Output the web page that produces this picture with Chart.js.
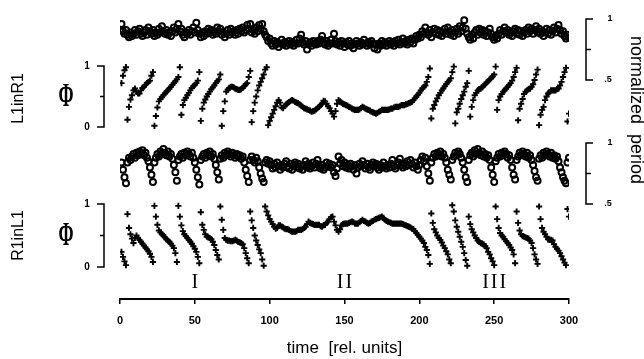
<!DOCTYPE html>
<html>
<head>
<meta charset="utf-8">
<script src="https://cdn.jsdelivr.net/npm/chart.js@4.4.1/dist/chart.umd.min.js"></script>
<style>
  body { margin: 0; background: #fff; }
  canvas { display: block; }
</style>
</head>
<body>
<canvas id="chart" width="644" height="359"></canvas>
<script>
// values, one per time unit (t = 1 .. 300)
const periodL1inR1 = [
  .96,.90,.88,.91,.87,.85,.89,.86,.88,.91,
  .87,.90,.92,.88,.86,.89,.91,.87,.93,.90,
  .88,.91,.86,.89,.87,.92,.89,.94,.90,.88,
  .91,.87,.89,.86,.90,.93,.89,.92,.96,.90,
  .92,.87,.85,.89,.88,.91,.87,.90,.93,.89,
  .97,.91,.88,.85,.89,.86,.90,.88,.92,.89,
  .91,.87,.90,.88,.93,.90,.92,.87,.89,.85,
  .88,.91,.87,.92,.89,.90,.87,.91,.88,.92,
  .90,.93,.89,.91,.95,.92,.96,.89,.91,.88,
  .93,.90,.95,.92,.96,.90,.87,.85,.82,.84,
  .80,.78,.82,.79,.81,.77,.80,.83,.79,.81,
  .78,.80,.82,.79,.81,.78,.80,.83,.80,.84,
  .87,.81,.79,.82,.75,.79,.81,.78,.82,.80,
  .79,.82,.80,.83,.86,.81,.79,.82,.78,.80,
  .83,.80,.88,.82,.79,.81,.78,.82,.80,.77,
  .81,.79,.82,.78,.80,.76,.79,.82,.80,.78,
  .81,.79,.83,.80,.78,.81,.79,.82,.80,.76,
  .79,.75,.80,.78,.82,.79,.81,.78,.80,.82,
  .79,.81,.78,.82,.80,.83,.79,.81,.84,.80,
  .82,.79,.83,.81,.84,.80,.83,.86,.84,.87,
  .85,.90,.88,.93,.89,.87,.91,.85,.89,.92,
  .88,.91,.87,.90,.86,.89,.92,.88,.93,.90,
  .87,.91,.86,.89,.92,.88,.94,.90,.93,.99,
  .92,.88,.85,.83,.87,.84,.89,.91,.87,.92,
  .89,.91,.87,.90,.86,.89,.92,.88,.85,.83,
  .86,.84,.88,.91,.87,.90,.93,.89,.91,.87,
  .89,.86,.90,.92,.88,.91,.87,.90,.86,.89,
  .91,.88,.93,.90,.92,.88,.91,.94,.89,.92,
  .88,.90,.86,.89,.92,.88,.91,.87,.90,.93,
  .89,.92,.95,.91,.88,.90,.86,.84,.87,.85
];

const phaseL1inR1 = [
  .72,.84,.93,.98,.12,.33,.45,.52,.60,.63,
  .58,.55,.55,.60,.64,.66,.69,.72,.74,.76,
  .84,.90,.02,.18,.32,.42,.46,.49,.52,.55,
  .58,.60,.63,.66,.69,.72,.75,.78,.82,.98,
  .20,.36,.44,.48,.52,.56,.60,.64,.67,.69,
  .72,.76,.90,.10,.30,.40,.45,.50,.54,.58,
  .62,.65,.68,.72,.75,.78,.86,.02,.26,.42,
  .58,.61,.64,.66,.66,.65,.63,.62,.61,.61,
  .62,.64,.67,.70,.72,.82,.92,.08,.26,.40,
  .50,.60,.68,.74,.80,.86,.94,.98,.03,.10,
  .16,.22,.28,.34,.40,.44,.40,.32,.31,.34,
  .37,.39,.41,.43,.44,.43,.41,.40,.39,.37,
  .35,.33,.31,.30,.29,.28,.27,.25,.26,.27,
  .29,.31,.33,.36,.38,.43,.42,.38,.34,.31,
  .26,.22,.17,.26,.38,.44,.42,.40,.38,.37,
  .36,.35,.33,.32,.30,.29,.28,.28,.28,.29,
  .31,.33,.32,.30,.29,.28,.27,.25,.24,.23,
  .22,.23,.25,.26,.28,.28,.28,.28,.28,.29,
  .30,.30,.32,.33,.33,.33,.34,.36,.36,.36,
  .37,.38,.39,.40,.41,.44,.47,.50,.53,.56,
  .60,.63,.66,.68,.74,.82,.96,.14,.30,.36,
  .42,.47,.52,.56,.60,.63,.67,.70,.74,.76,
  .80,.90,.99,.06,.24,.30,.38,.46,.52,.58,
  .66,.72,.92,.17,.33,.44,.52,.56,.60,.62,
  .63,.65,.68,.70,.73,.75,.78,.80,.83,.86,
  .99,.28,.44,.50,.54,.58,.60,.63,.66,.69,
  .72,.76,.82,.90,.97,.11,.30,.38,.46,.54,
  .58,.60,.62,.63,.66,.70,.77,.86,.94,.03,
  .20,.28,.33,.44,.50,.55,.57,.60,.60,.60,
  .60,.62,.63,.68,.74,.82,.90,.97,.09,.22
];

const periodR1inL1 = [
  .84,.78,.72,.67,.84,.88,.86,.89,.91,.88,
  .92,.90,.93,.91,.94,.90,.92,.88,.85,.80,
  .74,.68,.84,.88,.91,.89,.93,.91,.95,.92,
  .90,.93,.89,.91,.87,.82,.76,.69,.86,.89,
  .91,.88,.92,.90,.93,.91,.89,.92,.88,.84,
  .78,.72,.66,.86,.89,.91,.88,.92,.90,.93,
  .89,.91,.87,.82,.76,.70,.87,.90,.88,.92,
  .90,.93,.91,.89,.92,.90,.88,.91,.89,.90,
  .87,.89,.84,.78,.73,.68,.86,.89,.86,.84,
  .88,.85,.80,.75,.71,.68,.84,.86,.83,.85,
  .82,.79,.83,.80,.84,.81,.78,.82,.80,.83,
  .85,.81,.79,.83,.78,.82,.84,.80,.83,.79,
  .81,.78,.82,.85,.80,.83,.79,.81,.84,.80,
  .83,.86,.81,.79,.82,.78,.80,.84,.81,.83,
  .80,.82,.76,.73,.79,.89,.83,.86,.81,.84,
  .80,.82,.79,.83,.81,.78,.82,.75,.80,.83,
  .81,.85,.82,.79,.83,.80,.78,.82,.84,.81,
  .83,.80,.78,.82,.80,.84,.81,.79,.82,.80,
  .83,.86,.81,.79,.82,.84,.87,.82,.80,.83,
  .81,.85,.82,.86,.83,.80,.84,.81,.78,.82,
  .86,.89,.85,.88,.81,.75,.69,.84,.88,.91,
  .89,.92,.90,.93,.89,.91,.88,.84,.78,.74,
  .70,.86,.89,.92,.90,.93,.91,.88,.84,.78,
  .72,.68,.86,.90,.92,.89,.94,.91,.95,.92,
  .90,.93,.89,.91,.88,.90,.86,.80,.74,.68,
  .85,.88,.91,.89,.92,.90,.93,.91,.88,.90,
  .86,.80,.74,.70,.86,.89,.92,.90,.93,.91,
  .89,.92,.88,.90,.86,.82,.77,.72,.69,.87,
  .90,.88,.92,.90,.93,.91,.89,.92,.88,.90,
  .87,.89,.85,.80,.76,.72,.69,.67,.84,.88
];

const phaseR1inL1 = [
  .24,.16,.09,.03,.84,.62,.52,.45,.38,.46,
  .50,.46,.43,.40,.37,.34,.31,.28,.25,.21,
  .16,.08,.97,.80,.67,.58,.55,.52,.50,.47,
  .44,.42,.40,.37,.34,.30,.22,.08,.97,.80,
  .66,.57,.52,.49,.46,.43,.40,.37,.33,.29,
  .24,.16,.06,.87,.67,.59,.52,.48,.47,.46,
  .44,.40,.35,.27,.19,.12,.96,.75,.59,.46,
  .43,.42,.42,.41,.41,.42,.43,.42,.40,.39,
  .38,.36,.30,.22,.14,.06,.88,.74,.62,.50,
  .42,.35,.28,.22,.12,.02,.96,.88,.82,.76,
  .72,.68,.64,.61,.62,.66,.66,.64,.63,.61,
  .60,.60,.59,.57,.56,.56,.56,.57,.59,.59,
  .59,.60,.62,.64,.68,.72,.70,.69,.68,.67,
  .67,.67,.67,.65,.64,.66,.67,.70,.72,.76,
  .79,.80,.72,.66,.59,.56,.60,.66,.68,.69,
  .69,.69,.70,.71,.72,.71,.69,.69,.69,.71,
  .73,.75,.73,.72,.70,.69,.70,.72,.73,.75,
  .76,.77,.78,.79,.80,.78,.75,.73,.72,.71,
  .70,.69,.69,.69,.69,.69,.69,.69,.68,.67,
  .66,.65,.64,.63,.61,.60,.57,.54,.51,.48,
  .45,.42,.38,.32,.27,.19,.05,.85,.70,.60,
  .55,.50,.46,.43,.39,.34,.30,.25,.20,.12,
  .06,.98,.88,.74,.64,.56,.48,.40,.32,.22,
  .11,.02,.80,.68,.60,.55,.50,.46,.42,.40,
  .38,.37,.36,.33,.30,.24,.20,.14,.09,.03,
  .96,.76,.62,.54,.50,.48,.44,.41,.38,.35,
  .31,.27,.20,.06,.88,.70,.58,.52,.49,.48,
  .47,.46,.45,.42,.38,.30,.20,.12,.05,.96,
  .76,.62,.56,.52,.48,.44,.43,.43,.42,.36,
  .32,.29,.26,.22,.17,.12,.07,.03,.92,.80
];

const regimeLabels = ["I", "II", "III"];
const regimeAt = [50, 150, 250];

// every sub-panel shares the full chart area (8..299 px), so each hidden
// y scale gets a range that puts its data into the right strip
const TOP = 8, BOTTOM = 299;
function band(vHigh, pxHigh, vLow, pxLow) {
  const perPx = (vHigh - vLow) / (pxLow - pxHigh);
  return { min: vLow - (BOTTOM - pxLow) * perPx, max: vHigh + (pxHigh - TOP) * perPx };
}

const toPoints = (arr) => arr.map((v, i) => ({ x: i + 1, y: v }));

const ring = {
  pointStyle: "circle", pointRadius: 3, pointBorderWidth: 2,
  pointBorderColor: "#000", pointBackgroundColor: "rgba(255,255,255,0)", borderColor: "#000"
};
const cross = {
  pointStyle: "cross", pointRadius: 3.1, pointBorderWidth: 1.9,
  pointBorderColor: "#000", borderColor: "#000"
};

const decor = {
  id: "decor",
  afterDraw(chart) {
    const { ctx, chartArea, scales } = chart;
    ctx.save();
    ctx.strokeStyle = "#000";
    ctx.fillStyle = "#000";
    ctx.lineWidth = 1.5;
    ctx.textAlign = "center";
    ctx.textBaseline = "middle";

    // phase axes on the left
    const lx = chartArea.left - 16;
    [["yp1", "L1inR1", 2], ["yp2", "R1inL1", 0]].forEach(([id, name, shift]) => {
      const s = scales[id];
      const y1 = s.getPixelForValue(1), y0 = s.getPixelForValue(0), ym = s.getPixelForValue(0.5);
      ctx.beginPath();
      ctx.moveTo(lx - 7, y1); ctx.lineTo(lx, y1); ctx.lineTo(lx, y0); ctx.lineTo(lx - 7, y0);
      ctx.moveTo(lx - 4, ym); ctx.lineTo(lx, ym);
      ctx.stroke();
      ctx.font = "bold 10px 'Liberation Sans'";
      ctx.fillText("1", lx - 17, y1);
      ctx.fillText("0", lx - 17, y0);

      ctx.save();
      ctx.translate(66, ym);
      ctx.scale(0.55, 1);
      ctx.font = "bold 33px 'Liberation Serif'";
      ctx.fillText("Φ", 0, 1);
      ctx.restore();

      ctx.save();
      ctx.translate(19, ym + shift);
      ctx.rotate(-Math.PI / 2);
      ctx.font = "16px 'Liberation Sans'";
      ctx.fillText(name, 0, 0);
      ctx.restore();
    });

    // period axes on the right
    const rx = chartArea.right + 17;
    ["yq1", "yq2"].forEach((id) => {
      const s = scales[id];
      const yA = s.getPixelForValue(1), yB = s.getPixelForValue(0.5), yM = s.getPixelForValue(0.75);
      ctx.beginPath();
      ctx.moveTo(rx + 7, yA); ctx.lineTo(rx, yA); ctx.lineTo(rx, yB); ctx.lineTo(rx + 7, yB);
      ctx.moveTo(rx, yM); ctx.lineTo(rx + 5, yM);
      ctx.stroke();
      ctx.font = "bold 9px 'Liberation Sans'";
      ctx.fillText("1", rx + 24, yA);
      ctx.fillText(".5", rx + 22, yB);
    });

    ctx.save();
    ctx.translate(636, 110);
    ctx.rotate(Math.PI / 2);
    ctx.font = "18px 'Liberation Sans'";
    ctx.fillText("normalized  period", 0, 0);
    ctx.restore();

    // regime numerals
    ctx.font = "20px 'Liberation Serif'";
    ctx.letterSpacing = "2px";
    regimeLabels.forEach((r, i) => {
      ctx.fillText(r, scales.x.getPixelForValue(regimeAt[i]) + 1, 283);
    });
    ctx.restore();
  }
};

new Chart(document.getElementById("chart"), {
  type: "scatter",
  data: {
    datasets: [
      { data: toPoints(periodL1inR1), yAxisID: "yq1", ...ring },
      { data: toPoints(phaseL1inR1), yAxisID: "yp1", ...cross },
      { data: toPoints(periodR1inL1), yAxisID: "yq2", ...ring },
      { data: toPoints(phaseR1inL1), yAxisID: "yp2", ...cross }
    ]
  },
  options: {
    responsive: false,
    animation: false,
    devicePixelRatio: 1,
    layout: { padding: { left: 120, right: 75, top: TOP, bottom: 0 } },
    plugins: { legend: { display: false }, tooltip: { enabled: false } },
    scales: {
      x: {
        type: "linear",
        position: "bottom",
        min: 0,
        max: 300,
        afterFit: (s) => { s.height = 60; },
        border: { display: true, color: "#000", width: 2 },
        grid: { display: true, drawOnChartArea: false, drawTicks: true, tickLength: 5, color: "#000", lineWidth: 1.5 },
        ticks: {
          stepSize: 50, color: "#000", padding: 10, maxRotation: 0,
          font: { family: "'Liberation Sans'", size: 11, weight: "bold" }
        },
        title: {
          display: true, text: "time  [rel. units]", color: "#000",
          font: { family: "'Liberation Sans'", size: 17 },
          padding: { top: 0, bottom: 0 }
        }
      },
      yq1: { type: "linear", display: false, ...band(1, 19, 0.5, 80) },
      yp1: { type: "linear", display: false, ...band(1, 66, 0, 127) },
      yq2: { type: "linear", display: false, ...band(1, 143, 0.5, 204) },
      yp2: { type: "linear", display: false, ...band(1, 204, 0, 267) }
    }
  },
  plugins: [decor]
});
</script>
</body>
</html>
